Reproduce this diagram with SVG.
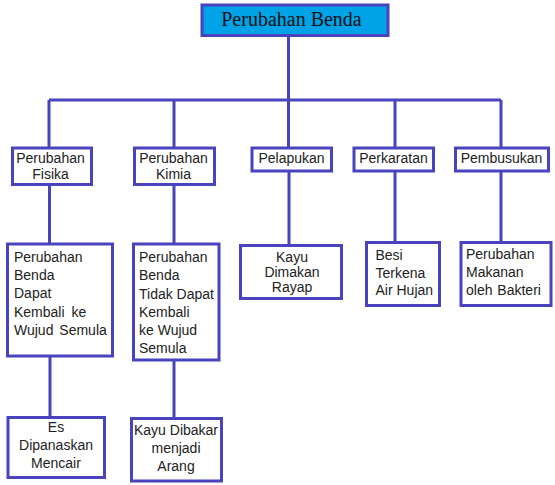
<svg xmlns="http://www.w3.org/2000/svg" width="555" height="485" viewBox="0 0 555 485">
<style>
.box{fill:#fff;stroke:#4943BD;stroke-width:3}
.top{fill:#00A2E8;stroke:#4943BD;stroke-width:3}
.ln{stroke:#4943BD;stroke-width:3;fill:none}
.t{font-family:"Liberation Sans",Arial,sans-serif;font-size:14px;fill:#222}
.c{text-anchor:middle}
.tt{font-family:"Liberation Serif","Times New Roman",serif;font-size:20px;fill:#111;text-anchor:middle}
</style>
<rect width="555" height="485" fill="#fff"/>
<g id="connectors">
<path class="ln" d="M288.5 36V100M49 100H501M49 100V148M174 100V148M288.5 100V148M395 100V148M501 100V148"/>
<path class="ln" d="M49.5 186V244M174 186V244M289 172V245M395 172V242M501 172V242M50 357V417M174 361V418"/>
</g>
<g id="n0"><rect class="top" x="202" y="5" width="186" height="30.5"/><text class="tt" x="291.5" y="26">Perubahan Benda</text></g>
<g id="n1"><rect class="box" x="12.5" y="148" width="79" height="36.5"/><text class="t c" x="50.5" y="163">Perubahan</text><text class="t c" x="50.5" y="179">Fisika</text></g>
<g id="n2"><rect class="box" x="134.5" y="148" width="80" height="36.5"/><text class="t c" x="173.5" y="163">Perubahan</text><text class="t c" x="173.5" y="179">Kimia</text></g>
<g id="n3"><rect class="box" x="252" y="148" width="79.5" height="23"/><text class="t c" x="291.5" y="163">Pelapukan</text></g>
<g id="n4"><rect class="box" x="354" y="148" width="79.5" height="23"/><text class="t c" x="393.5" y="163">Perkaratan</text></g>
<g id="n5"><rect class="box" x="455.5" y="148" width="93" height="23"/><text class="t c" x="501.5" y="163">Pembusukan</text></g>
<g id="n6"><rect class="box" x="7.5" y="244" width="105" height="112"/>
<text class="t" x="14" y="262">Perubahan</text><text class="t" x="14" y="280">Benda</text><text class="t" x="14" y="298">Dapat</text><text class="t" x="14" y="317" word-spacing="3">Kembali ke</text><text class="t" x="14" y="335" word-spacing="2">Wujud Semula</text></g>
<g id="n7"><rect class="box" x="133.5" y="244" width="85.5" height="116"/>
<text class="t" x="139" y="262">Perubahan</text><text class="t" x="139" y="280">Benda</text><text class="t" x="139" y="299">Tidak Dapat</text><text class="t" x="139" y="317">Kembali</text><text class="t" x="139" y="335">ke Wujud</text><text class="t" x="139" y="353">Semula</text></g>
<g id="n8"><rect class="box" x="240.5" y="245.5" width="101" height="53"/>
<text class="t c" x="292" y="261.5">Kayu</text><text class="t c" x="292" y="276.5">Dimakan</text><text class="t c" x="292" y="291.5">Rayap</text></g>
<g id="n9"><rect class="box" x="366.5" y="242.5" width="73" height="63"/>
<text class="t" x="375.5" y="260">Besi</text><text class="t" x="375.5" y="278">Terkena</text><text class="t" x="375.5" y="295">Air Hujan</text></g>
<g id="n10"><rect class="box" x="461" y="242.5" width="90" height="63"/>
<text class="t" x="466" y="259">Perubahan</text><text class="t" x="466" y="277">Makanan</text><text class="t" x="466" y="295" word-spacing="1">oleh Bakteri</text></g>
<g id="n11"><rect class="box" x="8" y="417.5" width="96.5" height="60"/>
<text class="t c" x="56" y="432">Es</text><text class="t c" x="56" y="450">Dipanaskan</text><text class="t c" x="56" y="468">Mencair</text></g>
<g id="n12"><rect class="box" x="131.5" y="418.5" width="90" height="62.5"/>
<text class="t c" x="176" y="435">Kayu Dibakar</text><text class="t c" x="176" y="453">menjadi</text><text class="t c" x="176" y="471">Arang</text></g>
</svg>
